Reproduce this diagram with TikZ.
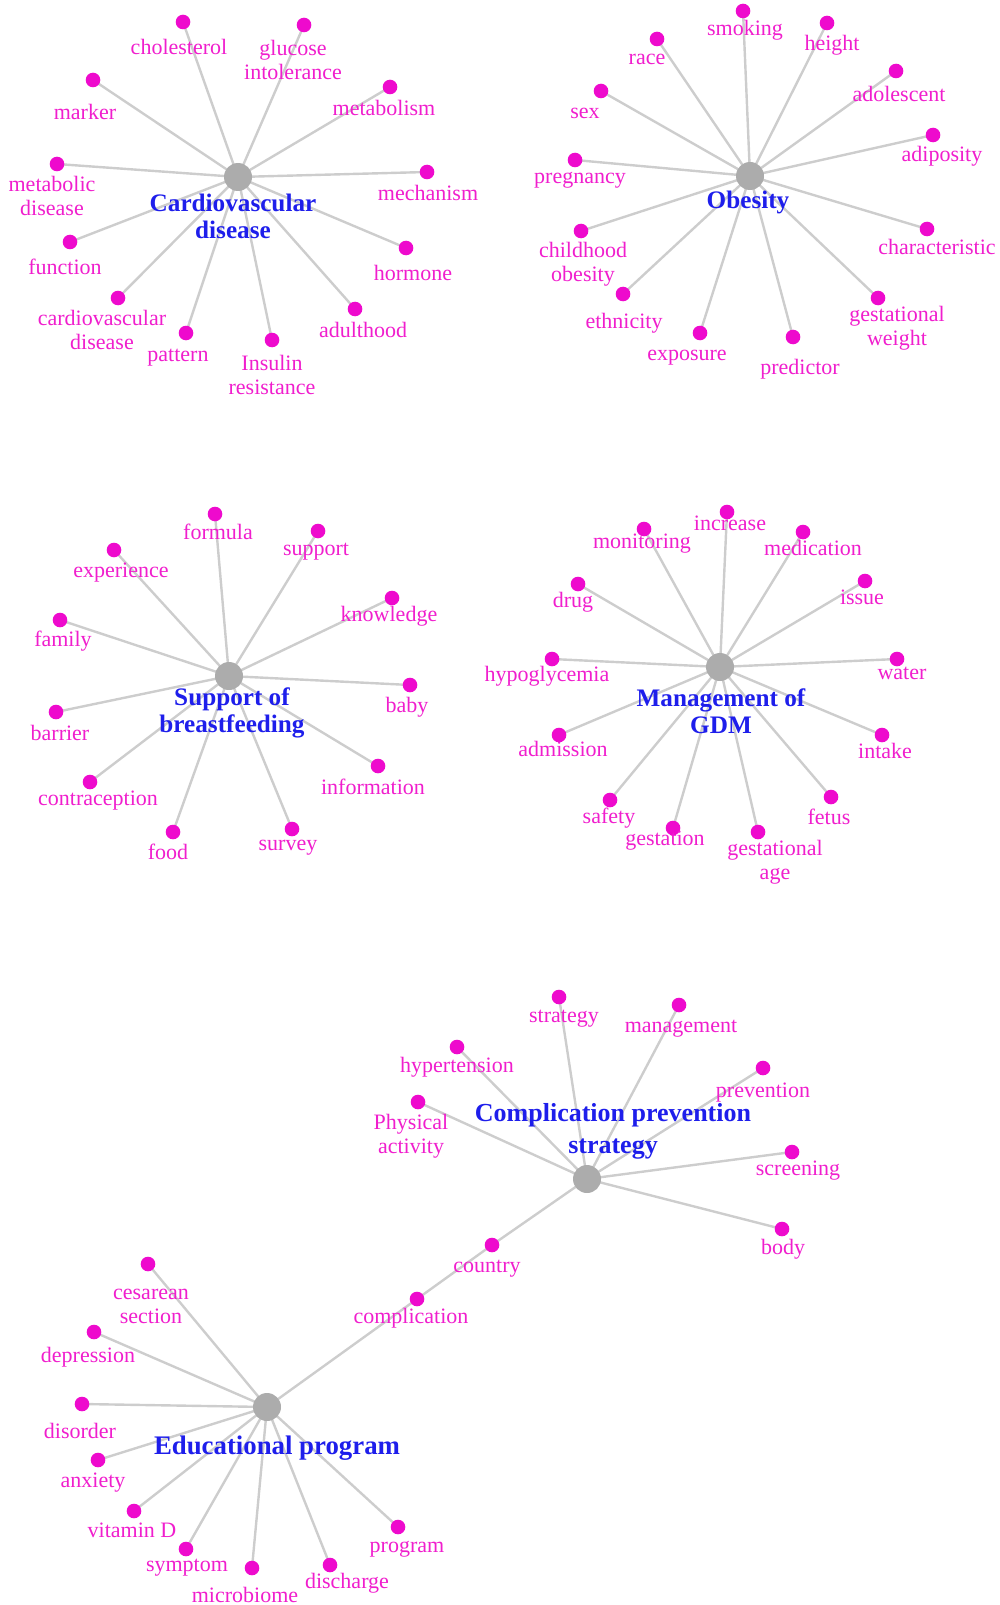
\documentclass[tikz,border=0pt]{standalone}
\usepackage{fontspec}
\setmainfont{Liberation Serif}
\usetikzlibrary{backgrounds}
\definecolor{kwpink}{RGB}{240,30,205}
\definecolor{kwdotc}{RGB}{238,10,205}
\definecolor{kwblue}{RGB}{30,30,235}
\definecolor{hubgray}{RGB}{172,172,172}
\definecolor{edgegray}{RGB}{205,205,205}
\tikzset{
  kwdot/.style={circle,fill=kwdotc,draw=none,minimum size=7.3pt,inner sep=0},
  hubdot/.style={circle,fill=hubgray,draw=none,minimum size=14pt,inner sep=0},
  kwlabel/.style={text=kwpink,inner sep=0,align=center,font=\fontsize{11}{12}\selectfont},
  hublabel/.style={text=kwblue,inner sep=0,align=center,font=\fontsize{12.6}{13.5}\selectfont\bfseries},
  edge/.style={draw=edgegray,line width=1.2pt}
}
\newcommand{\kwcluster}[2]{%
  \foreach \n/\dx/\dy/\lx/\ly/\txt in {#2}{%
    \node[kwdot] (\n) at (\dx,\dy) {};
    \node[kwlabel] (\n-l) at (\lx,\ly) {\txt};
    \begin{scope}[on background layer]
      \draw[edge] (#1.center) -- (\n.center);
    \end{scope}
  }%
}
\begin{document}
\begin{tikzpicture}[x=0.5pt,y=-0.5pt]
\useasboundingbox (0,0) rectangle (1000,1605);
% hubs
\node[hubdot] (cvd) at (238,177) {};
\node[hubdot] (obe) at (750,176) {};
\node[hubdot] (sob) at (229,676) {};
\node[hubdot] (gdm) at (720,667) {};
\node[hubdot] (cps) at (587,1179) {};
\node[hubdot] (edu) at (267,1407) {};
% clusters
\kwcluster{cvd}{chol/183/22/179/47/cholesterol,
 gluc/304/25/293/60/{glucose\\intolerance},
 mark/93/80/85/112/marker,
 metab/390/87/384/108/metabolism,
 metd/57/164/52/196/{metabolic\\disease},
 mech/427/172/428/193/mechanism,
 func/70/242/65/267/function,
 horm/406/248/413/273/hormone,
 cvdd/118/298/102/330/{cardiovascular\\disease},
 patt/186/333/178/358/pattern,
 insr/272/340/272/375/{Insulin\\resistance},
 adul/355/309/363/330/adulthood}
\kwcluster{obe}{smok/743/11/745/30/smoking,
 heig/827/23/832/45/height,
 race/657/39/647/59/race,
 adol/896/71/899/94/adolescent,
 sex/601/91/585/113/sex,
 adip/933/135/942/156/adiposity,
 preg/575/160/580/180/pregnancy,
 char/927/229/937/247/characteristic,
 chob/581/231/583/264/{childhood\\obesity},
 ethn/623/294/624/323/ethnicity,
 gesw/878/298/897/328/{gestational\\weight},
 expo/700/333/687/358/exposure,
 pred/793/337/800/369/predictor}
\kwcluster{sob}{form/215/514/218/532/formula,
 supp/318/531/316/552/support,
 expe/114/550/121/573/experience,
 know/392/598/389/616/knowledge,
 fami/60/620/63/641/family,
 baby/410/685/407/707/baby,
 barr/56/712/60/733/barrier,
 info/378/766/373/787/information,
 cont/90/782/98/801/contraception,
 food/173/832/168/852/food,
 surv/292/829/288/848/survey}
\kwcluster{gdm}{incr/727/512/730/523/increase,
 moni/644/529/642/544/monitoring,
 medi/803/532/813/548/medication,
 drug/578/584/573/602/drug,
 issu/865/581/862/597/issue,
 hypo/552/659/547/676/hypoglycemia,
 wate/897/659/902/673/water,
 admi/559/735/563/749/admission,
 inta/882/735/885/751/intake,
 safe/610/800/609/818/safety,
 fetu/831/797/829/817/fetus,
 gest/673/828/665/841/gestation,
 gesa/758/832/775/862/{gestational\\age}}
\kwcluster{cps}{stra/559/997/564/1019/strategy,
 mana/679/1005/681/1029/management,
 hype/457/1047/457/1067/hypertension,
 prev/763/1068/763/1093/prevention,
 phys/418/1102/411/1136/{Physical\\activity},
 scre/792/1152/798/1171/screening,
 body/782/1229/783/1249/body,
 coun/492/1245/487/1269/country}
\kwcluster{edu}{comp/417/1299/411/1318/complication,
 cesa/148/1264/151/1306/{cesarean\\section},
 depr/94/1332/88/1357/depression,
 diso/82/1404/80/1431/disorder,
 anxi/98/1460/93/1483/anxiety,
 vitd/134/1511/132/1530/vitamin D,
 prog/398/1527/407/1549/program,
 symp/186/1549/187/1568/symptom,
 micr/252/1568/245/1595/microbiome,
 disc/330/1565/347/1583/discharge}
\begin{scope}[on background layer]
  \draw[edge] (comp.center) -- (coun.center);
\end{scope}
% hub labels
\node[hublabel] (cvd-l) at (233,216) {Cardiovascular\\disease};
\node[hublabel] (obe-l) at (748,202) {Obesity};
\node[hublabel] (sob-l) at (232,713) {Support of\\breastfeeding};
\node[hublabel] (gdm-l) at (721,711) {Management of\\GDM};
\node[hublabel,font=\fontsize{13}{16}\selectfont\bfseries] (cps-l) at (613,1131) {Complication prevention\\strategy};
\node[hublabel,font=\fontsize{13.4}{16}\selectfont\bfseries] (edu-l) at (277,1448) {Educational program};
\end{tikzpicture}
\end{document}
